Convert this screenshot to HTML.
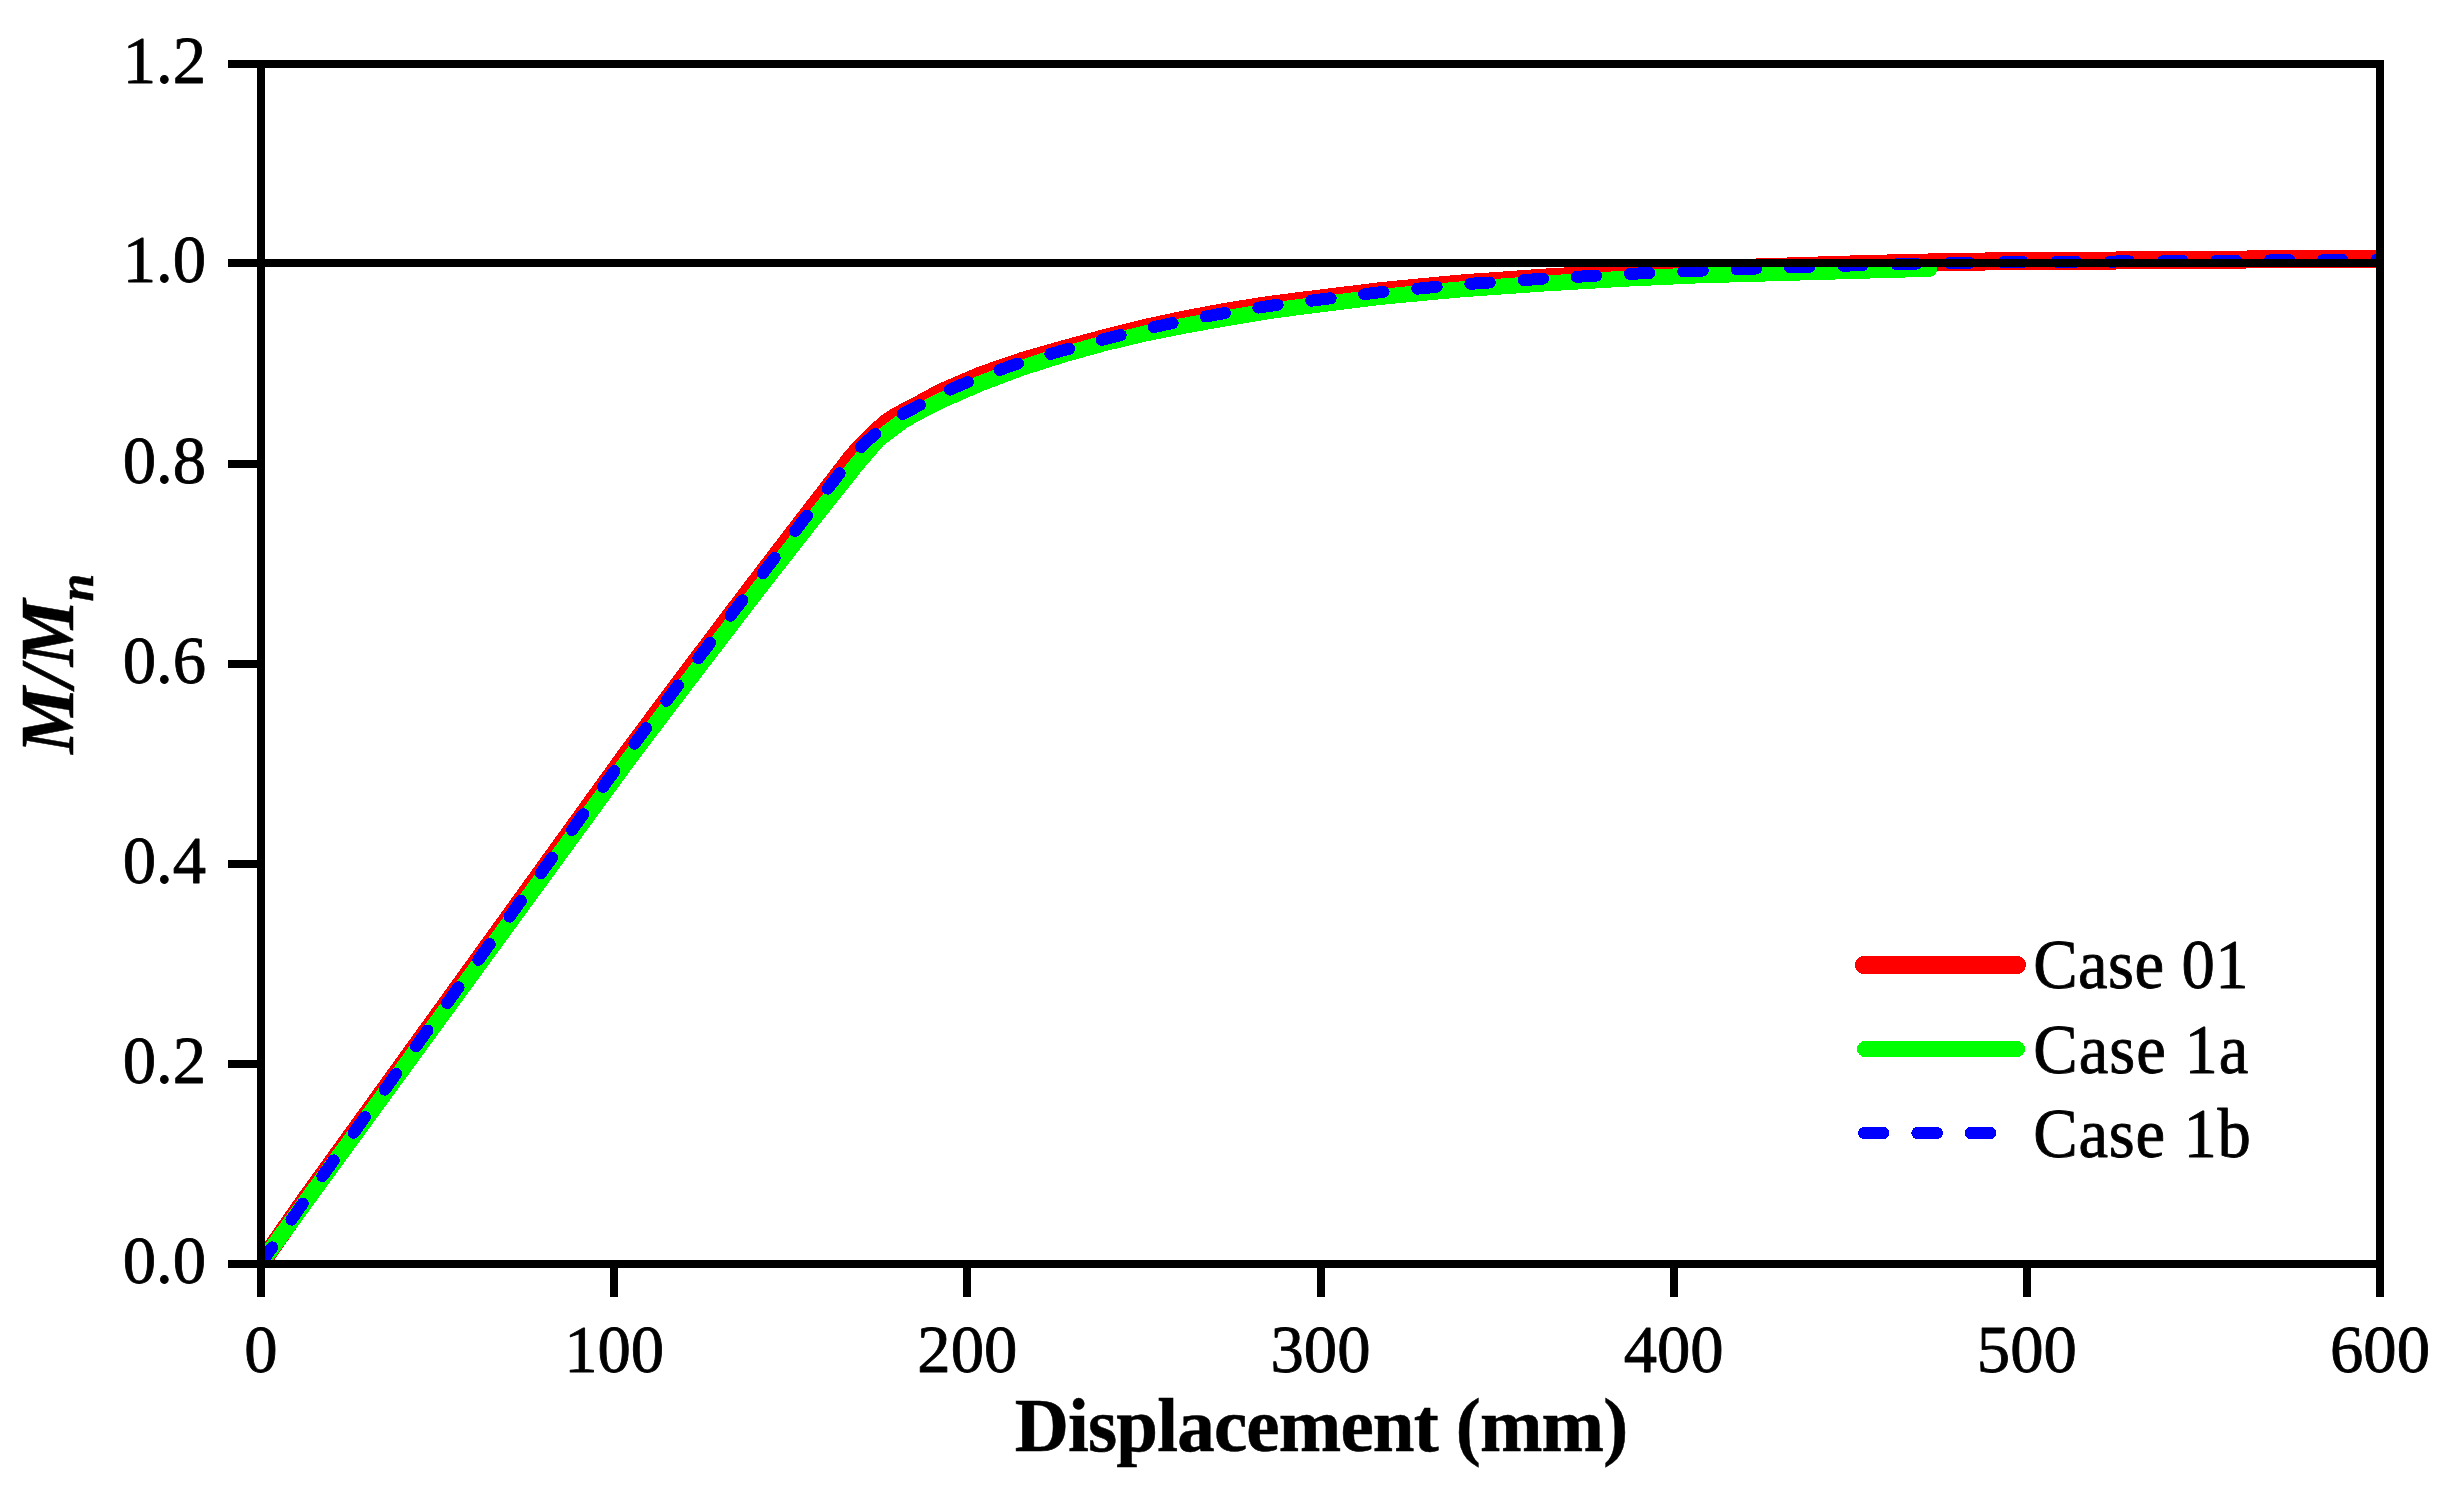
<!DOCTYPE html>
<html><head><meta charset="utf-8"><title>M/Mn vs Displacement</title>
<style>html,body{margin:0;padding:0;background:#fff;}svg{display:block;}</style></head>
<body>
<svg width="2454" height="1489" viewBox="0 0 2454 1489">
<rect x="0" y="0" width="2454" height="1489" fill="#fff"/>
<defs><clipPath id="pc"><rect x="261" y="64" width="2119" height="1200"/></clipPath></defs>
<g clip-path="url(#pc)" fill="none" stroke-linejoin="round" shape-rendering="crispEdges">
<polyline points="260.50,1264.00 305.20,1200.00 625.00,756.50 676.70,687.00 750.00,590.00 799.00,526.00 853.10,455.80 864.70,443.40 877.20,431.00 888.30,421.40 897.90,415.50 917.20,405.40 940.80,392.55 981.60,375.10 1022.40,361.00 1063.20,349.30 1104.00,338.30 1144.80,328.00 1185.60,319.30 1226.40,311.70 1267.20,305.20 1300.00,301.00 1381.60,291.05 1463.20,283.30 1544.80,277.60 1626.40,273.00 1708.00,269.40 1762.00,267.30 1863.20,264.10 1944.80,262.10 2026.40,260.90 2100.00,260.70 2160.00,260.00 2300.00,259.20 2384.00,258.90" stroke="#ff0000" stroke-width="18" stroke-linecap="round"/>
<polyline points="260.50,1264.00 307.00,1200.00 630.80,756.50 683.50,687.00 757.80,590.00 807.80,526.00 857.85,463.00 878.30,439.30 903.30,420.50 922.90,409.75 940.80,400.60 981.60,382.95 1022.40,367.60 1063.20,354.65 1104.00,343.30 1144.80,333.60 1185.60,325.45 1226.40,318.20 1267.20,311.30 1300.00,306.90 1381.60,296.75 1463.20,289.15 1544.80,283.45 1626.40,278.60 1700.00,275.30 1765.30,273.50 1863.20,270.70 1929.50,268.80" stroke="#00ff00" stroke-width="16" stroke-linecap="round"/>
<polyline points="260.50,1264.00 305.20,1200.00 625.00,756.50 676.70,687.00 750.00,590.00 799.00,526.00 853.10,455.80 864.70,443.40 877.20,432.00 888.30,422.40 897.90,416.50 917.20,406.40 940.80,393.55 981.60,376.10 1022.40,362.00 1063.20,350.30 1104.00,339.30 1144.80,329.00 1185.60,320.30 1226.40,312.70 1267.20,306.20 1300.00,302.00 1381.60,292.05 1463.20,284.30 1544.80,278.60 1626.40,274.00 1708.00,270.40 1762.00,268.30 1863.20,265.10 1944.80,263.10 2026.40,261.90 2100.00,261.70 2160.00,261.00 2300.00,260.20 2384.00,259.90" stroke="#0000ff" stroke-width="12" stroke-linecap="round" stroke-dasharray="19.5 33.83" stroke-dashoffset="-0.8"/>
</g>
<g fill="#000" shape-rendering="crispEdges">
<rect x="228" y="259" width="2156" height="8"/>
<rect x="228" y="60" width="2156" height="8"/>
<rect x="228" y="1260" width="2156" height="8"/>
<rect x="257" y="60" width="8" height="1237"/>
<rect x="2376" y="60" width="8" height="1237"/>
<rect x="228" y="460" width="33" height="8"/>
<rect x="228" y="660" width="33" height="8"/>
<rect x="228" y="860" width="33" height="8"/>
<rect x="228" y="1060" width="33" height="8"/>
<rect x="610" y="1264" width="8" height="33"/>
<rect x="963" y="1264" width="8" height="33"/>
<rect x="1317" y="1264" width="8" height="33"/>
<rect x="1670" y="1264" width="8" height="33"/>
<rect x="2023" y="1264" width="8" height="33"/>
</g>
<g font-family="'Liberation Serif','Times New Roman',serif" font-size="66.67" fill="#000" stroke="#000" stroke-width="0.8" stroke-linejoin="round">
<text transform="translate(206.00,83.30) scale(1,1.03)" text-anchor="end">1.2</text>
<text transform="translate(206.00,282.30) scale(1,1.03)" text-anchor="end">1.0</text>
<text transform="translate(206.00,483.30) scale(1,1.03)" text-anchor="end">0.8</text>
<text transform="translate(206.00,683.30) scale(1,1.03)" text-anchor="end">0.6</text>
<text transform="translate(206.00,883.30) scale(1,1.03)" text-anchor="end">0.4</text>
<text transform="translate(206.00,1083.30) scale(1,1.03)" text-anchor="end">0.2</text>
<text transform="translate(206.00,1283.30) scale(1,1.03)" text-anchor="end">0.0</text>
<text transform="translate(261.00,1371.80) scale(1,1.03)" text-anchor="middle">0</text>
<text transform="translate(614.17,1371.80) scale(1,1.03)" text-anchor="middle">100</text>
<text transform="translate(967.34,1371.80) scale(1,1.03)" text-anchor="middle">200</text>
<text transform="translate(1320.51,1371.80) scale(1,1.03)" text-anchor="middle">300</text>
<text transform="translate(1673.68,1371.80) scale(1,1.03)" text-anchor="middle">400</text>
<text transform="translate(2026.85,1371.80) scale(1,1.03)" text-anchor="middle">500</text>
<text transform="translate(2380.02,1371.80) scale(1,1.03)" text-anchor="middle">600</text>
<text transform="translate(2033.20,988.00) scale(1,1.04)" text-anchor="start" letter-spacing="0.4">Case 01</text>
<text transform="translate(2033.20,1072.70) scale(1,1.04)" text-anchor="start" letter-spacing="1.0">Case 1a</text>
<text transform="translate(2033.20,1156.60) scale(1,1.04)" text-anchor="start" letter-spacing="0.8">Case 1b</text>
</g>
<g fill="none" stroke-linecap="round" shape-rendering="crispEdges">
<line x1="1864" y1="965" x2="2017" y2="965" stroke="#ff0000" stroke-width="18"/>
<line x1="1865" y1="1049" x2="2017" y2="1049" stroke="#00ff00" stroke-width="16"/>
<line x1="1864" y1="1133" x2="2017" y2="1133" stroke="#0000ff" stroke-width="12" stroke-dasharray="19.5 33.83"/>
</g>
<text id="xl" transform="translate(1321.0,1450.6) scale(1,1.02)" text-anchor="middle" letter-spacing="-0.84" font-family="'Liberation Serif','Times New Roman',serif" font-weight="bold" font-size="75" fill="#000" stroke="#000" stroke-width="0.5">Displacement (mm)</text>
<text id="yl" transform="translate(73.0,753.7) rotate(-90) scale(1,1.02)" font-family="'Liberation Serif','Times New Roman',serif" font-weight="bold" font-style="italic" font-size="75" fill="#000" stroke="#000" stroke-width="0.5">M/M<tspan font-size="50" dy="19.8" dx="-2">n</tspan></text>
</svg>
</body></html>
